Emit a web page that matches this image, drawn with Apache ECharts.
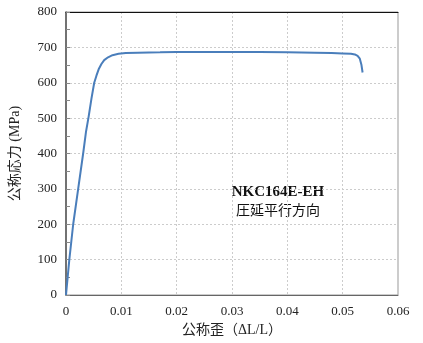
<!DOCTYPE html>
<html><head><meta charset="utf-8">
<script src="https://cdn.jsdelivr.net/npm/echarts@6/dist/echarts.min.js"></script>
<style>html,body{margin:0;padding:0;background:#fff}#c{width:423px;height:343px}</style>
</head><body><div id="c"></div>
<script>
var strain = [0, 0.0006, 0.0013, 0.0022, 0.0031, 0.0036, 0.0041, 0.0046, 0.0051, 0.0055, 0.0059, 0.0064, 0.0069, 0.0076, 0.0084, 0.0095, 0.0108, 0.013, 0.017, 0.02, 0.025, 0.03, 0.035, 0.04, 0.045, 0.048, 0.05, 0.0515, 0.0522, 0.0527, 0.0531, 0.0534, 0.0536];
var stress = [0, 100, 200, 300, 400, 460, 505, 555, 600, 620, 638, 653, 664, 672, 678, 682, 684, 685, 686, 687, 687, 687, 687, 686, 685, 684, 683, 682, 680, 676, 668, 650, 629];
var xTicks = ['0', '0.01', '0.02', '0.03', '0.04', '0.05', '0.06'];
var yTicks = ['0', '100', '200', '300', '400', '500', '600', '700', '800'];
var xName = '公称歪（ΔL/L）';
var yName = '公称応力 (MPa)';
var noteLines = ['NKC164E-EH', '圧延平行方向'];

var serif = '"Liberation Serif", "DejaVu Serif", "Noto Sans CJK JP", serif';
var pts = strain.map(function(s, i){ return [s, stress[i]]; });
var chart = echarts.init(document.getElementById('c'));
chart.setOption({
  animation: false,
  grid: {left: 66, right: 25, top: 12, bottom: 48, show: true, borderColor: '#999', borderWidth: 1},
  xAxis: [{
    type: 'value', min: 0, max: 0.06, interval: 0.01,
    name: xName, nameLocation: 'middle', nameGap: 28,
    nameTextStyle: {fontFamily: serif, fontSize: 14, color: '#222'},
    axisLine: {show: true, lineStyle: {color: '#666', width: 1}},
    axisTick: {show: false},
    axisLabel: {fontFamily: serif, fontSize: 13, color: '#222', margin: 10,
      formatter: function(v){ var i = Math.round(v / 0.01); return xTicks[i]; }},
    splitLine: {show: true, lineStyle: {color: '#ccc', type: [2, 2], width: 1}}
  }, {
    type: 'value', min: 0, max: 0.06, position: 'top',
    axisLine: {show: true, lineStyle: {color: '#111', width: 1}},
    axisTick: {show: false}, axisLabel: {show: false}, splitLine: {show: false}
  }],
  yAxis: [{
    type: 'value', min: 0, max: 800, interval: 100,
    name: yName, nameLocation: 'middle', nameGap: 44,
    nameTextStyle: {fontFamily: serif, fontSize: 14, color: '#222'},
    axisLine: {show: true, lineStyle: {color: '#555', width: 1.5}},
    axisTick: {show: true, inside: true, length: 4, lineStyle: {color: '#888'}},
    minorTick: {show: true, splitNumber: 2, length: 4, lineStyle: {color: '#888'}},
    axisLabel: {fontFamily: serif, fontSize: 13, color: '#222', margin: 9,
      formatter: function(v){ return yTicks[Math.round(v / 100)]; }},
    splitLine: {show: true, lineStyle: {color: '#ccc', type: [2, 2], width: 1}}
  }],
  graphic: [{
    type: 'text', x: 278, y: 185,
    style: {text: noteLines[0], align: 'center', verticalAlign: 'top',
      font: 'bold 15px ' + serif, fill: '#111'}
  }, {
    type: 'text', x: 278, y: 204,
    style: {text: noteLines[1], align: 'center', verticalAlign: 'top',
      font: '14px ' + serif, fill: '#111'}
  }],
  series: [{
    type: 'line', data: pts, showSymbol: false, smooth: false,
    lineStyle: {color: '#4a7ebb', width: 2}
  }]
});
</script></body></html>
